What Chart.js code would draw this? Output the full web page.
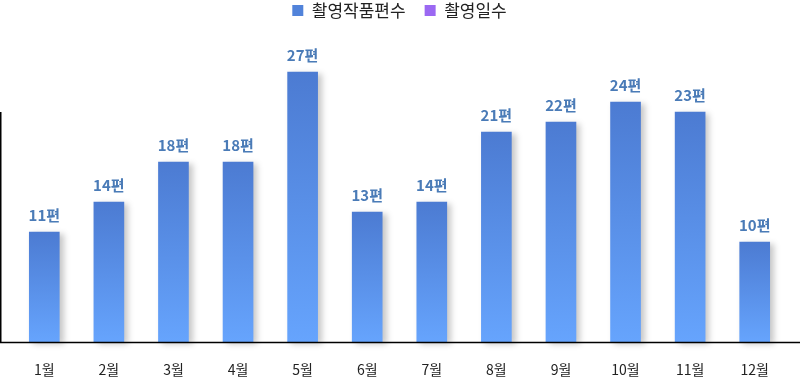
<!DOCTYPE html>
<html>
<head>
<meta charset="utf-8">
<script src="https://cdn.jsdelivr.net/npm/chart.js@4/dist/chart.umd.min.js"></script>
<style>
  html, body { margin: 0; padding: 0; background: #fff; }
  #wrap { width: 800px; height: 377px; position: relative; }
</style>
</head>
<body>
<div id="wrap"><canvas id="chart"></canvas></div>
<script>
// monthly counts of filmed works
const months = ['1월', '2월', '3월', '4월', '5월', '6월', '7월', '8월', '9월', '10월', '11월', '12월'];
const worksCount = [11, 14, 18, 18, 27, 13, 14, 21, 22, 24, 23, 10];
const shootingDays = [];
const yMax = 23;

const FONT = "'Noto Sans CJK KR', 'Noto Sans', sans-serif";
const legendColors = ['#5183da', '#9b68f2'];

// make the legend block taller so the plot starts lower
const legendSpace = {
  id: 'legendSpace',
  beforeInit(chart) {
    const fit = chart.legend.fit;
    chart.legend.fit = function () {
      fit.bind(chart.legend)();
      this.height = 129;
    };
  }
};

// soft shadow to the right of each bar
const barShadow = {
  id: 'barShadow',
  beforeDatasetDraw(chart) {
    const ctx = chart.ctx;
    ctx.save();
    ctx.shadowColor = 'rgba(0,0,0,0.22)';
    ctx.shadowBlur = 6;
    ctx.shadowOffsetX = 4;
    ctx.shadowOffsetY = 2;
  },
  afterDatasetDraw(chart) {
    chart.ctx.restore();
  }
};

// value labels above bars + the two axis lines
const extras = {
  id: 'extras',
  afterDatasetsDraw(chart) {
    const ctx = chart.ctx;
    const area = chart.chartArea;
    ctx.save();
    ctx.strokeStyle = '#000';
    ctx.lineWidth = 1.5;
    ctx.beginPath();
    ctx.moveTo(0.75, area.top);
    ctx.lineTo(0.75, area.bottom);
    ctx.moveTo(0, area.bottom + 0.5);
    ctx.lineTo(chart.width, area.bottom + 0.5);
    ctx.stroke();

    const meta = chart.getDatasetMeta(0);
    ctx.fillStyle = '#4a7bb7';
    ctx.font = 'bold 15px ' + FONT;
    ctx.textAlign = 'center';
    ctx.textBaseline = 'bottom';
    meta.data.forEach((bar, i) => {
      ctx.fillText(worksCount[i] + '편', bar.x, bar.y - 9);
    });
    ctx.restore();
  }
};

const ctx = document.getElementById('chart').getContext('2d');
new Chart(ctx, {
  type: 'bar',
  data: {
    labels: months,
    datasets: [
      {
        label: '촬영작품편수',
        data: worksCount,
        grouped: false,
        barThickness: 30,
        borderWidth: 0,
        clip: false,
        backgroundColor: (c) => {
          const chart = c.chart;
          if (!chart.chartArea || c.raw == null) return '#4f82d8';
          const top = chart.scales.y.getPixelForValue(c.raw);
          const base = chart.scales.y.getPixelForValue(0);
          const g = chart.ctx.createLinearGradient(0, top, 0, base);
          g.addColorStop(0, '#4c7bd2');
          g.addColorStop(1, '#66a4fd');
          return g;
        }
      },
      {
        label: '촬영일수',
        data: shootingDays,
        grouped: false,
        barThickness: 30,
        backgroundColor: '#9b68f2'
      }
    ]
  },
  options: {
    responsive: true,
    maintainAspectRatio: false,
    animation: false,
    layout: { padding: { top: -17, left: 12, right: 13, bottom: 0 } },
    plugins: {
      legend: {
        display: true,
        position: 'top',
        labels: {
          boxWidth: 11,
          boxHeight: 11,
          padding: 19,
          color: '#222',
          font: { family: FONT, size: 17 },
          generateLabels: (chart) => chart.data.datasets.map((ds, i) => ({
            text: ds.label,
            fillStyle: legendColors[i],
            strokeStyle: legendColors[i],
            lineWidth: 0,
            fontColor: '#222',
            hidden: !chart.isDatasetVisible(i),
            datasetIndex: i
          }))
        }
      },
      tooltip: { enabled: false }
    },
    scales: {
      x: {
        grid: { display: false, drawTicks: false },
        border: { display: false },
        afterFit: (s) => { s.height = 35; },
        ticks: { color: '#222', padding: 19, font: { family: FONT, size: 14 } }
      },
      y: {
        display: false,
        min: 0,
        max: yMax
      }
    }
  },
  plugins: [legendSpace, barShadow, extras]
});
</script>
</body>
</html>
